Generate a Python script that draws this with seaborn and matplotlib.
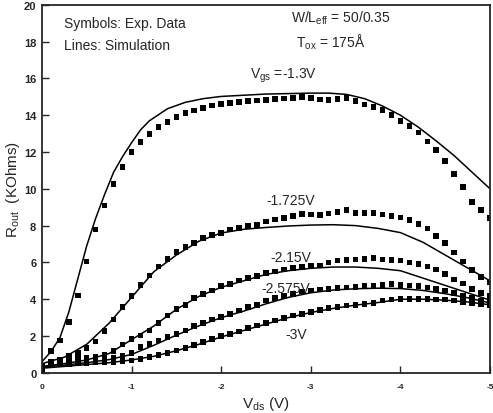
import numpy as np
import pandas as pd
import matplotlib
matplotlib.use("Agg")
import matplotlib.pyplot as plt
import seaborn as sns

# drain bias (V), measured every 0.1 V
vds_exp = [-0.1 * i for i in range(51)]

# measured Rout (KOhms) per gate bias
exp_13 = [0.1, 1.2, 1.76, 2.75, 4.2, 6.05, 7.8, 9.1, 10.25, 11.2,
          12.0, 12.54, 12.97, 13.35, 13.62, 13.9, 14.11, 14.26, 14.4, 14.53,
          14.62, 14.67, 14.73, 14.77, 14.8, 14.84, 14.87, 14.9, 14.95, 14.98,
          14.93, 14.86, 14.84, 14.89, 14.93, 14.76, 14.58, 14.44, 14.29, 14.02,
          13.68, 13.4, 13.06, 12.57, 12.12, 11.5, 10.8, 10.09, 9.28, 8.86, 8.42]
exp_1725 = [0.4, 0.55, 0.7, 0.92, 1.09, 1.36, 1.7, 2.26, 2.9, 3.57,
            4.17, 4.78, 5.29, 5.78, 6.2, 6.56, 6.83, 7.07, 7.32, 7.5,
            7.61, 7.79, 7.86, 7.97, 8.04, 8.22, 8.33, 8.42, 8.51, 8.62,
            8.6, 8.59, 8.66, 8.75, 8.84, 8.7, 8.7, 8.7, 8.6, 8.51,
            8.45, 8.3, 8.1, 7.85, 7.45, 7.05, 6.55, 6.05, 5.6, 5.2, 4.9]
exp_215 = [0.3, 0.6, 0.7, 0.76, 0.78, 0.8, 0.9, 1.0, 1.2, 1.55,
           1.85, 2.03, 2.3, 2.72, 3.11, 3.48, 3.7, 4.06, 4.29, 4.47,
           4.71, 4.84, 5.02, 5.14, 5.25, 5.43, 5.5, 5.62, 5.69, 5.74,
           5.83, 5.83, 6.0, 6.1, 6.14, 6.16, 6.2, 6.23, 6.16, 6.14,
           6.1, 6.0, 5.9, 5.77, 5.62, 5.36, 5.07, 4.86, 4.57, 4.33, 4.18]
exp_2575 = [0.2, 0.5, 0.55, 0.58, 0.6, 0.65, 0.7, 0.76, 0.8, 0.94,
            1.09, 1.4, 1.58, 1.76, 1.94, 2.12, 2.3, 2.54, 2.72, 2.9,
            3.03, 3.2, 3.39, 3.57, 3.7, 3.93, 4.06, 4.17, 4.29, 4.42,
            4.47, 4.53, 4.57, 4.6, 4.64, 4.67, 4.71, 4.75, 4.78, 4.82,
            4.78, 4.75, 4.71, 4.64, 4.57, 4.47, 4.35, 4.17, 4.06, 3.93, 3.8]
exp_3 = [0.1, 0.4, 0.45, 0.48, 0.5, 0.52, 0.55, 0.58, 0.6, 0.63,
         0.67, 0.76, 0.85, 0.98, 1.09, 1.21, 1.34, 1.52, 1.67, 1.85,
         1.99, 2.12, 2.25, 2.43, 2.57, 2.72, 2.84, 2.97, 3.11, 3.2,
         3.3, 3.42, 3.51, 3.57, 3.66, 3.7, 3.75, 3.8, 3.93, 3.98,
         4.02, 4.02, 4.02, 4.02, 3.98, 3.98, 3.93, 3.86, 3.8, 3.75, 3.7]

# simulation curves
vds_sim13 = [0, -0.1, -0.2, -0.3, -0.4, -0.5, -0.6, -0.7, -0.8, -0.9, -1.0,
             -1.1, -1.2, -1.4, -1.6, -1.8, -2.0, -2.5, -3.0, -3.2, -3.4,
             -3.6, -3.8, -4.0, -4.2, -4.4, -4.6, -4.8, -5.0]
sim_13 = [0.6, 1.15, 1.9, 3.3, 5.1, 6.9, 8.4, 9.7, 10.9, 11.75, 12.5,
          13.2, 13.7, 14.35, 14.7, 14.9, 15.02, 15.15, 15.2, 15.2, 15.13,
          14.9, 14.5, 14.0, 13.35, 12.6, 11.8, 10.9, 10.0]
vds_sim = [-0.25 * i for i in range(21)]
sim_1725 = [0.5, 0.85, 1.55, 2.7, 4.1, 5.5, 6.4, 7.15, 7.6, 7.8, 7.9,
            7.98, 8.03, 8.05, 8.0, 7.85, 7.62, 7.1, 6.4, 5.7, 5.0]
sim_215 = [0.35, 0.5, 0.7, 1.05, 1.8, 2.55, 3.45, 4.15, 4.65, 5.0, 5.35,
           5.55, 5.68, 5.75, 5.75, 5.68, 5.55, 5.15, 4.75, 4.35, 3.95]
sim_2575 = [0.3, 0.42, 0.55, 0.72, 1.0, 1.5, 2.05, 2.55, 3.0, 3.35, 3.75,
            4.1, 4.35, 4.5, 4.57, 4.6, 4.58, 4.48, 4.3, 4.08, 3.8]
sim_3 = [0.25, 0.35, 0.45, 0.55, 0.7, 0.9, 1.2, 1.55, 1.95, 2.3, 2.65,
         3.0, 3.28, 3.5, 3.68, 3.82, 4.0, 4.0, 3.95, 3.85, 3.7]

exp_df = pd.concat([
    pd.DataFrame({"vds": vds_exp, "rout": r, "vgs": g})
    for r, g in [(exp_13, "-1.3"), (exp_1725, "-1.725"), (exp_215, "-2.15"),
                 (exp_2575, "-2.575"), (exp_3, "-3")]
])
sim_df = pd.concat([pd.DataFrame({"vds": vds_sim13, "rout": sim_13, "vgs": "-1.3"})] + [
    pd.DataFrame({"vds": vds_sim, "rout": r, "vgs": g})
    for r, g in [(sim_1725, "-1.725"), (sim_215, "-2.15"),
                 (sim_2575, "-2.575"), (sim_3, "-3")]
])

sns.set_style("ticks")
plt.rcParams["font.family"] = ["Liberation Sans", "DejaVu Sans"]

fig = plt.figure(figsize=(4.93, 4.14), dpi=100)
ax = fig.add_axes([0.085, 0.097, 0.909, 0.889])

sns.lineplot(data=sim_df, x="vds", y="rout", units="vgs", estimator=None,
             sort=False, color="black", lw=1.1, ax=ax)
sns.scatterplot(data=exp_df, x="vds", y="rout", marker="s", s=16,
                color="black", edgecolor="none", ax=ax)

ax.set_xlim(0, -5)
ax.set_ylim(0, 20)
ax.set_xticks([0, -1, -2, -3, -4, -5])
ax.set_xticklabels(["0", "-1", "-2", "-3", "-4", "-5"], fontsize=6, fontweight="bold")
ax.set_yticks(range(0, 21, 2))
ax.set_yticklabels([str(v) for v in range(0, 21, 2)], fontsize=8, fontweight="bold")
ax.tick_params(direction="in", length=5, width=1, pad=4)
ax.tick_params(axis="x", pad=7)
for sp in ax.spines.values():
    sp.set_linewidth(1.3)
    sp.set_visible(True)

ax.set_xlabel("V$_{\\mathregular{ds}}$ (V)", fontsize=11, labelpad=3)
ax.set_ylabel("R$_{\\mathregular{out}}$  (KOhms)", fontsize=11, labelpad=1)

ax.text(-0.25, 19.0, "Symbols: Exp. Data", fontsize=10, va="center")
ax.text(-0.25, 17.8, "Lines: Simulation", fontsize=10, va="center")
ax.text(-2.78, 19.3, "W/L$_{\\mathregular{eff}}$ = 50/0.35", fontsize=10, va="center")
ax.text(-2.84, 18.0, "T$_{\\mathregular{ox}}$ = 175Å", fontsize=10, va="center")
ax.text(-2.32, 16.2, "V$_{\\mathregular{gs}}$ =-1.3V", fontsize=10, va="center")
ax.text(-2.5, 9.4, "-1.725V", fontsize=10, va="center")
ax.text(-2.55, 6.3, "-2.15V", fontsize=10, va="center")
ax.text(-2.45, 4.6, "-2.575V", fontsize=10, va="center")
ax.text(-2.72, 2.1, "-3V", fontsize=10, va="center")

fig.savefig("out.png", dpi=100)
